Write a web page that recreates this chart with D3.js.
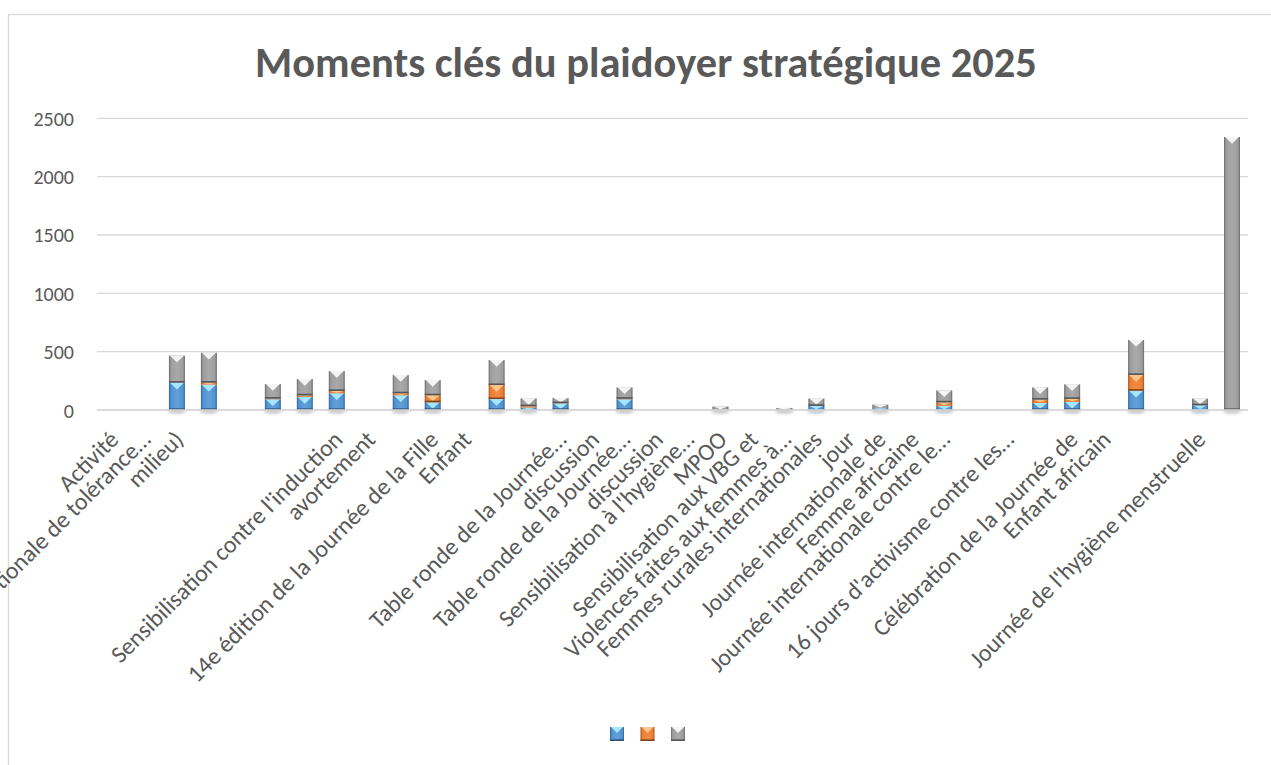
<!DOCTYPE html>
<html><head><meta charset="utf-8">
<script src="https://cdn.jsdelivr.net/npm/d3@7"></script>
<style>
body{margin:0;background:#fff;overflow:hidden}
svg{display:block}
text{font-family:Calibri,Carlito,Lato,sans-serif;fill:#595959}
</style>
</head><body>
<svg id="chart" width="1271" height="765"></svg>
<script>
const chartTitle = "Moments clés du plaidoyer stratégique 2025";
const categoryLabels = [
  "Activité",
  "tionale de tolérance…\nmilieu)",
  "", "", "", "",
  "",
  "Sensibilisation contre l'induction\navortement",
  "", "",
  "14e édition de la Journée de la Fille\nEnfant",
  "", "", "",
  "Table ronde de la Journée…\ndiscussion",
  "",
  "Table ronde de la Journée…\ndiscussion",
  "",
  "Sensibilisation à l'hygiène…\nMPOO",
  "",
  "Sensibilisation aux VBG et\nViolences faites aux femmes à…",
  "",
  "Femmes rurales internationales\njour",
  "",
  "Journée internationale de\nFemme africaine",
  "",
  "Journée internationale contre le…",
  "",
  "16 jours d'activisme contre les…",
  "",
  "Célébration de la Journée de\nEnfant africain",
  "", "", "",
  "Journée de l'hygiène menstruelle",
  ""
];
const seriesNames = ["", "", ""];
const seriesBlue   = [null,null,234,217,null,91,111,143,null,126,66,null,94,20,55,null,91,null,null,0,null,0,35,null,16,null,35,null,null,60,69,null,165,null,40,0];
const seriesOrange = [null,null,0,17,null,6,14,20,null,17,60,null,120,12,3,null,5,null,null,0,null,0,0,null,0,null,30,null,null,29,26,null,135,null,0,0];
const seriesGray   = [null,null,232,257,null,126,141,171,null,157,131,null,214,68,45,null,98,null,null,30,null,17,63,null,30,null,103,null,null,105,125,null,300,null,58,2340];
const yTicks = [0, 500, 1000, 1500, 2000, 2500];
const seriesColors = ["#4f93d3", "#ed7d31", "#9d9d9d"];
const seriesTips   = ["#a8e6ff", "#ffc58a", "#f4f4f4"];

const svg = d3.select("#chart");

// chart border
svg.append("rect").attr("x", 8.5).attr("y", 14.5).attr("width", 1300).attr("height", 800)
  .attr("fill", "#fff").attr("stroke", "#d9d9d9").attr("stroke-width", 1.3);

const keys = ["s0", "s1", "s2"];
const table = categoryLabels.map((c, i) => ({
  idx: i, s0: seriesBlue[i] || 0, s1: seriesOrange[i] || 0, s2: seriesGray[i] || 0
}));

const x = d3.scaleBand().domain(table.map(d => d.idx)).range([97, 1248]).paddingInner(0.5).paddingOuter(0.25);
const y = d3.scaleLinear().domain([0, 2500]).range([410, 118.3]);

const defs = svg.append("defs");
seriesColors.forEach((c, i) => {
  const g = defs.append("linearGradient").attr("id", "grad" + i).attr("x1", "0").attr("x2", "1").attr("y1", "0").attr("y2", "0");
  const dark = d3.interpolateRgb(c, "#000")(0.35);
  const light = d3.interpolateRgb(c, "#fff")(0.12);
  [[0, dark], [0.12, c], [0.5, light], [0.88, c], [1, dark]].forEach(([o, col]) =>
    g.append("stop").attr("offset", o).attr("stop-color", col));
});
const blur = defs.append("filter").attr("id", "shadow").attr("x", "-50%").attr("y", "-200%").attr("width", "200%").attr("height", "500%");
blur.append("feGaussianBlur").attr("stdDeviation", 1.6);

// gridlines
svg.append("g").selectAll("line").data(yTicks).join("line")
  .attr("x1", 97).attr("x2", 1248).attr("y1", d => y(d)).attr("y2", d => y(d))
  .attr("stroke", "#d9d9d9").attr("stroke-width", 1.3);

// y axis labels
const yAxis = d3.axisLeft(y).tickValues(yTicks).tickSize(0).tickPadding(0).tickFormat(d3.format("d"));
const ya = svg.append("g").attr("transform", "translate(74,0)").call(yAxis);
ya.select(".domain").remove();
ya.selectAll("text").attr("font-size", 20).attr("fill", "#595959")
  .style("font-family", "Calibri,Carlito,Lato,sans-serif").attr("dy", "0.35em");

// shadows under bars
const totals = table.map(d => d.s0 + d.s1 + d.s2);
svg.append("g").selectAll("ellipse").data(table.filter((d, i) => totals[i] > 0)).join("ellipse")
  .attr("cx", d => x(d.idx) + x.bandwidth() / 2).attr("cy", y(0) + 1.5)
  .attr("rx", x.bandwidth() * 0.6).attr("ry", 2.2)
  .attr("fill", "#000").attr("opacity", 0.22).attr("filter", "url(#shadow)");

// stacked bars
const stacked = d3.stack().keys(keys)(table);
function bevelSegment(g, x0, y0, w, h, si) {
  g.append("rect").attr("x", x0).attr("y", y0).attr("width", w).attr("height", h)
    .attr("fill", `url(#grad${si})`);
  if (h > 1.5) {
    const th = Math.min(h * 0.8, w * 0.42);
    g.append("path")
      .attr("d", `M${x0 + 1},${y0}L${x0 + w - 1},${y0}L${x0 + w / 2},${y0 + th}Z`)
      .attr("fill", seriesTips[si]);
  }
  if (h > 5) {
    g.append("rect").attr("x", x0).attr("y", y0 + h - 1.6).attr("width", w).attr("height", 1.6)
      .attr("fill", d3.interpolateRgb(seriesColors[si], "#000")(0.45));
  }
}
stacked.forEach((layer, si) => {
  const g = svg.append("g");
  layer.forEach(seg => {
    const h = y(seg[0]) - y(seg[1]);
    if (h <= 0.05) return;
    bevelSegment(g, x(seg.data.idx), y(seg[1]), x.bandwidth(), h, si);
  });
});

// x axis line
svg.append("line").attr("x1", 97).attr("x2", 1248).attr("y1", y(0)).attr("y2", y(0))
  .attr("stroke", "#d9d9d9").attr("stroke-width", 1.3);

// category labels
const labelStep = 33;
const lg = svg.append("g");
table.forEach(d => {
  const lines = categoryLabels[d.idx] ? categoryLabels[d.idx].split("\n") : [];
  const cx = x(d.idx) + x.bandwidth() / 2;
  lines.forEach((ln, k) => {
    lg.append("text")
      .attr("transform", `translate(${cx + 7 + k * labelStep},${441}) rotate(-45)`)
      .attr("text-anchor", "end").attr("font-size", 24).text(ln);
  });
});

// title
svg.append("text").attr("x", 646).attr("y", 77).attr("text-anchor", "middle")
  .attr("font-size", 42.5).attr("font-weight", "bold").attr("fill", "#595959").text(chartTitle);

// legend
const lx = d3.scalePoint().domain(seriesNames.map((d, i) => i)).range([617, 678]);
const leg = svg.append("g");
seriesNames.forEach((n, i) => {
  bevelSegment(leg, lx(i) - 7, 727, 14, 14, i);
  if (n) leg.append("text").attr("x", lx(i) + 12).attr("y", 739).attr("font-size", 16).text(n);
});
</script>
</body></html>
